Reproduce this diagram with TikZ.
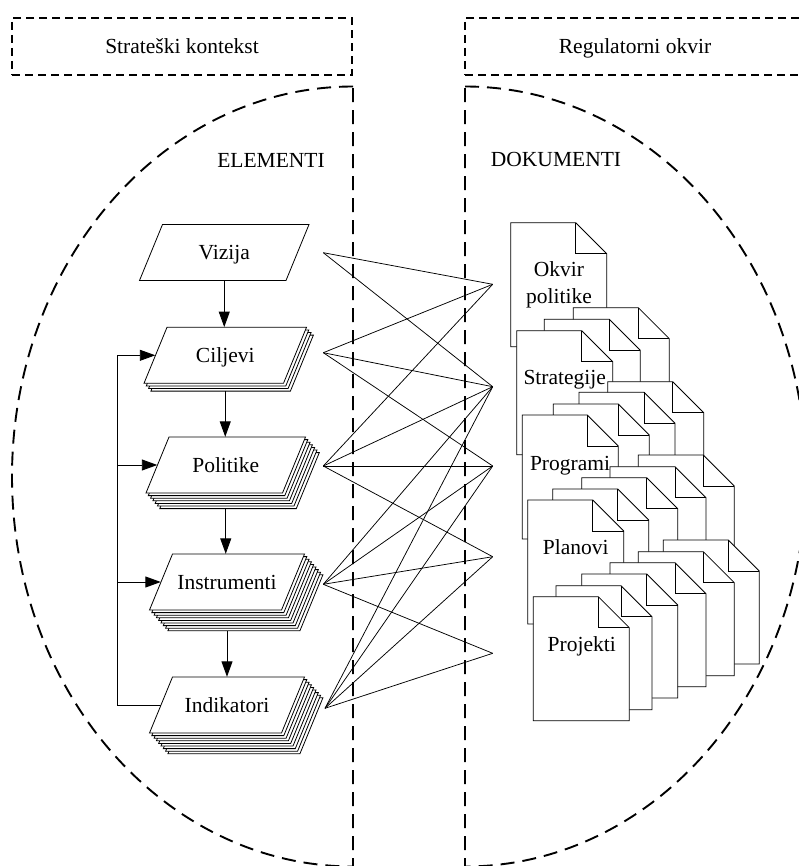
\documentclass[tikz,border=0pt]{standalone}
\usepackage{fontspec}
\setmainfont{Liberation Serif}
\usetikzlibrary{arrows.meta,calc}

% one parallelogram sheet: centre x, centre y, mid width, x shift, y shift
\newcommand\sheetpar[5]{%
  \draw[sheet] ({#1+#4-#3/2-11.5},{#2+#5+28}) -- ++(#3,0) -- ++(23,-56) -- ++(-#3,0) -- cycle;}
% a stack of parallelograms with its label node: name, cx, cy, width, copies, text
\newcommand\elemstack[6]{%
  \ifnum#5>0
    \foreach \k in {#5,...,1}{\sheetpar{#2}{#3}{#4}{2.3*\k}{2.6*\k}}
  \fi
  \sheetpar{#2}{#3}{#4}{0}{0}
  \node[elemtext, minimum width=#4, minimum height=56] (#1) at (#2,#3) {#6};}
% one dog-eared document, given by its top-left corner
\newcommand\docsheet[2]{%
  \draw[sheet] (#1,#2) -- ++(65,0) -- ++(31,31) -- ++(0,93) -- ++(-96,0) -- cycle;
  \draw[sheet, fill=none] ({#1+65},#2) -- ++(0,31) -- ++(31,0);}

\begin{document}
\begin{tikzpicture}[x=1pt,y=-1pt,
  sheet/.style={draw, fill=white, line width=0.8pt},
  framebox/.style={draw, line width=1.1pt, dash pattern=on 8pt off 5pt},
  region/.style={draw, line width=1.9pt, dash pattern=on 14pt off 8pt},
  lbl/.style={font=\fontsize{21.5}{26.7}\selectfont, inner sep=0pt, text height=14.2pt, text depth=0pt},
  elemtext/.style={lbl},
  flow/.style={line width=0.9pt, -{Triangle[length=15.5pt, width=11pt]}},
  bus/.style={line width=0.9pt},
  link/.style={line width=0.75pt},
]
\clip (0,0) rectangle (799,866);

% headers
\node[framebox, lbl, minimum width=340, minimum height=57] (ctx) at (182,46.5) {Strateški kontekst};
\node[framebox, lbl, minimum width=340, minimum height=57] (reg) at (635,46.5) {Regulatorni okvir};

% the two halves of the large region
\draw[region] (353,86.5) arc[start angle=270, end angle=90, x radius=341, y radius=390] -- cycle;
\draw[region] (465,86.5) arc[start angle=270, end angle=450, x radius=341, y radius=390] -- cycle;

\node[lbl] (elementi) at (271,160) {ELEMENTI};
\node[lbl] (dokumenti) at (556,159) {DOKUMENTI};

% elements
\elemstack{viz}{224.25}{252.5}{146.5}{0}{Vizija}
\elemstack{cil}{225.25}{355.3}{139.5}{3}{Ciljevi}
\elemstack{pol}{225.75}{465}{136.5}{6}{Politike}
\elemstack{ins}{227}{582}{132}{8}{Instrumenti}
\elemstack{ind}{227}{705}{132}{8}{Indikatori}

\draw[flow] (viz.south) -- (viz.south |- cil.north);
\draw[flow] ($(cil.south)+(0,7.8)$) -- (cil.south |- pol.north);
\draw[flow] ($(pol.south)+(0,15.6)$) -- (pol.south |- ins.north);
\draw[flow] ($(ins.south)+(0,20.8)$) -- (ins.south |- ind.north);

% feedback bus
\coordinate (busx) at (117,0);
\draw[bus] (ind.west) -- (ind.west -| busx) -- (busx |- cil.west);
\draw[flow] (busx |- cil.west) -- (cil.west);
\draw[flow] (busx |- pol.west) -- (pol.west);
\draw[flow] (busx |- ins.west) -- (ins.west);

% documents
\docsheet{510.7}{222.7}
\docsheet{573.3}{307.7}
\docsheet{544.3}{319.3}
\docsheet{516.7}{330.7}
\docsheet{607.7}{381.7}
\docsheet{579}{392.3}
\docsheet{553.3}{404}
\docsheet{522.3}{415}
\docsheet{638.3}{455}
\docsheet{610}{466.7}
\docsheet{581.7}{477.7}
\docsheet{552.7}{489}
\docsheet{527.7}{500}
\docsheet{663.3}{540}
\docsheet{638.3}{551.7}
\docsheet{610}{562.7}
\docsheet{581.7}{574}
\docsheet{556}{585.7}
\docsheet{533.3}{596.7}

\node[lbl, align=center] (okvir) at (559,296) {Okvir\\politike};
\node[lbl] (strat) at (564.7,377) {Strategije};
\node[lbl] (progr) at (570,463) {Programi};
\node[lbl] (plan) at (575.7,547.5) {Planovi};
\node[lbl] (proj) at (581.7,644.8) {Projekti};

% link end points
\coordinate (eV) at (323.3,252.7);
\coordinate (eC) at (323.3,352.7);
\coordinate (eP) at (323.3,466);
\coordinate (eI) at (323.3,584.3);
\coordinate (eK) at (325,708.3);
\coordinate (dO) at (492.7,284.3);
\coordinate (dS) at (492.7,386.7);
\coordinate (dP) at (492.7,466);
\coordinate (dL) at (492.7,556.7);
\coordinate (dJ) at (492.7,653.3);

\foreach \a/\b in {eV/dO, eV/dS,
                   eC/dO, eC/dS, eC/dP,
                   eP/dO, eP/dS, eP/dP, eP/dL,
                   eI/dS, eI/dP, eI/dL, eI/dJ,
                   eK/dS, eK/dP, eK/dL, eK/dJ}
  \draw[link] (\a) -- (\b);
\end{tikzpicture}
\end{document}
